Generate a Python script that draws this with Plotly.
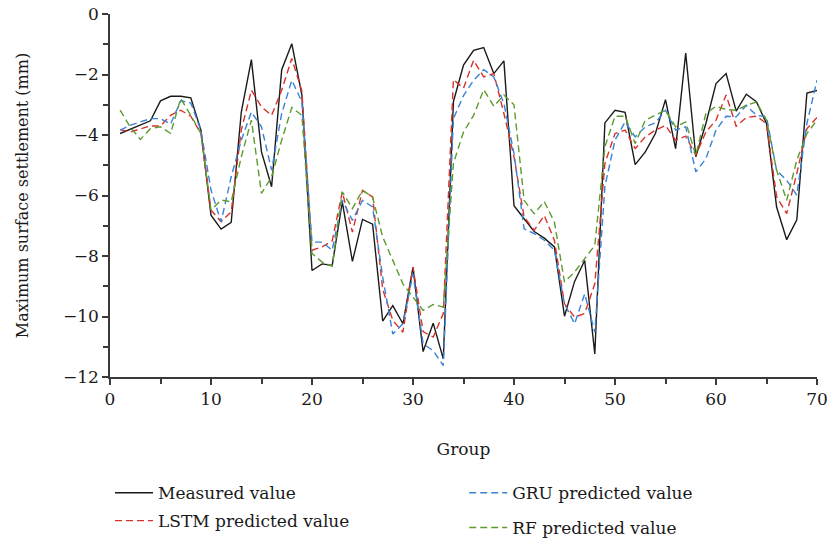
import plotly.graph_objects as go

# Groups 1..70
groups = list(range(1, 71))

measured = [
    -3.95, -3.81, -3.68, -3.53, -2.87, -2.72, -2.72, -2.77, -3.84, -6.65,
    -7.11, -6.89, -3.24, -1.51, -4.56, -5.71, -1.84, -0.98, -2.68, -8.48,
    -8.26, -8.31, -6.21, -8.18, -6.79, -6.95, -10.15, -9.64, -10.24, -8.37,
    -11.16, -10.22, -11.40, -2.90, -1.69, -1.20, -1.11, -1.97, -1.55, -6.34,
    -6.77, -7.19, -7.41, -7.70, -9.99, -8.84, -8.15, -11.24, -3.60, -3.18,
    -3.25, -4.98, -4.56, -3.95, -2.83, -4.45, -1.29, -4.72, -3.62, -2.30,
    -1.97, -3.21, -2.65, -2.90, -3.62, -6.38, -7.46, -6.80, -2.61, -2.53,
]

lstm = [
    -3.82, -3.90, -3.80, -3.70, -3.70, -3.35, -3.18, -3.38, -3.95, -6.48,
    -6.87, -6.54, -3.84, -2.52, -3.07, -3.35, -2.52, -1.47, -2.55, -7.81,
    -7.70, -7.50, -5.88, -7.21, -5.83, -6.05, -9.10, -10.13, -10.52, -8.37,
    -10.50, -10.68, -9.90, -2.17, -2.45, -1.53, -2.08, -1.97, -3.29, -4.72,
    -6.71, -7.15, -6.66, -7.48, -9.58, -10.02, -9.90, -8.92, -4.94, -3.95,
    -3.84, -4.45, -4.06, -3.84, -3.68, -4.17, -4.04, -4.67, -3.90, -3.51,
    -2.68, -3.71, -3.42, -3.38, -3.62, -6.04, -6.60, -5.27, -3.79, -3.42,
]

gru = [
    -3.84, -3.68, -3.57, -3.46, -3.46, -3.64, -2.87, -2.94, -3.84, -5.82,
    -6.87, -5.38, -4.17, -3.24, -3.73, -5.16, -3.29, -2.19, -2.90, -7.54,
    -7.54, -7.81, -6.16, -6.82, -6.16, -6.38, -8.70, -10.58, -10.24, -8.59,
    -10.90, -11.13, -11.62, -3.46, -2.70, -2.19, -1.84, -2.08, -2.96, -4.61,
    -7.10, -7.26, -7.48, -7.81, -9.58, -10.24, -9.25, -10.52, -5.70, -4.17,
    -3.57, -4.06, -3.73, -3.60, -3.18, -3.84, -3.73, -5.22, -4.78, -3.84,
    -3.38, -3.40, -3.02, -3.35, -3.40, -5.17, -5.50, -5.99, -3.62, -2.19,
]

rf = [
    -3.18, -3.73, -4.15, -3.79, -3.73, -3.95, -2.80, -3.35, -3.95, -6.48,
    -6.15, -6.21, -4.72, -3.51, -5.93, -5.38, -4.17, -3.09, -3.35, -7.92,
    -8.20, -8.34, -5.88, -6.43, -5.83, -6.05, -7.37, -8.15, -8.92, -9.36,
    -9.80, -9.60, -9.69, -4.94, -3.90, -3.35, -2.50, -3.05, -2.68, -3.00,
    -6.16, -6.60, -6.20, -6.88, -8.86, -8.53, -8.09, -7.65, -4.39, -3.38,
    -3.38, -4.28, -3.51, -3.35, -3.18, -3.73, -3.57, -4.67, -3.29, -3.05,
    -3.16, -3.18, -3.02, -2.91, -3.51, -5.16, -6.16, -4.83, -3.95, -3.51,
]

x_ticks = [0, 10, 20, 30, 40, 50, 60, 70]
y_ticks = [0, -2, -4, -6, -8, -10, -12]

FONT = "DejaVu Serif"
AXIS_COLOR = "#3a3a3a"
DASH = "7px,4px"

# (name, values, colour, dash, legend id)
series = [
    ("Measured value", measured, "#1a1a1a", "solid", "legend"),
    ("LSTM predicted value", lstm, "#d9322b", DASH, "legend2"),
    ("GRU predicted value", gru, "#3a82d6", DASH, "legend3"),
    ("RF predicted value", rf, "#5c9b2e", DASH, "legend4"),
]

fig = go.Figure()
for name, vals, color, dash, leg in series:
    fig.add_trace(go.Scatter(x=groups, y=vals, mode="lines", name=name,
                             line=dict(color=color, width=1.4, dash=dash),
                             legend=leg, showlegend=True))

def legend_box(x, y):
    return dict(x=x, y=y, xanchor="left", yanchor="middle", orientation="v",
                font=dict(size=17), itemwidth=38, bgcolor="rgba(0,0,0,0)")

fig.update_layout(
    width=829, height=541,
    showlegend=True,
    margin=dict(l=110, r=12, t=14, b=164, autoexpand=False),
    paper_bgcolor="white", plot_bgcolor="white",
    font=dict(family=FONT, size=17, color="#1a1a1a"),
    legend=legend_box(0.0, -0.32),
    legend2=legend_box(0.0, -0.397),
    legend3=legend_box(0.501, -0.32),
    legend4=legend_box(0.501, -0.416),
)

fig.update_xaxes(
    range=[0, 70], tickvals=x_ticks, ticktext=[str(v) for v in x_ticks],
    ticks="outside", ticklen=6, tickwidth=1.5, tickcolor=AXIS_COLOR,
    minor=dict(dtick=5, ticks="outside", ticklen=5, tickwidth=1.5, tickcolor=AXIS_COLOR),
    showline=True, linecolor=AXIS_COLOR, linewidth=1.5, showgrid=False, zeroline=False,
    tickfont=dict(size=17),
    title=dict(text="Group", font=dict(size=17), standoff=35),
)
fig.update_yaxes(
    range=[-12, 0], tickvals=y_ticks,
    ticktext=[("\u2212" + str(-v)) if v < 0 else "0" for v in y_ticks],
    ticks="outside", ticklen=6, tickwidth=1.5, tickcolor=AXIS_COLOR,
    minor=dict(dtick=1, ticks="outside", ticklen=5, tickwidth=1.5, tickcolor=AXIS_COLOR),
    showline=True, linecolor=AXIS_COLOR, linewidth=1.5, showgrid=False, zeroline=False,
    tickfont=dict(size=17),
    title=dict(text="Maximum surface settlement (mm)", font=dict(size=16), standoff=30),
)

fig.write_html("out.html")
